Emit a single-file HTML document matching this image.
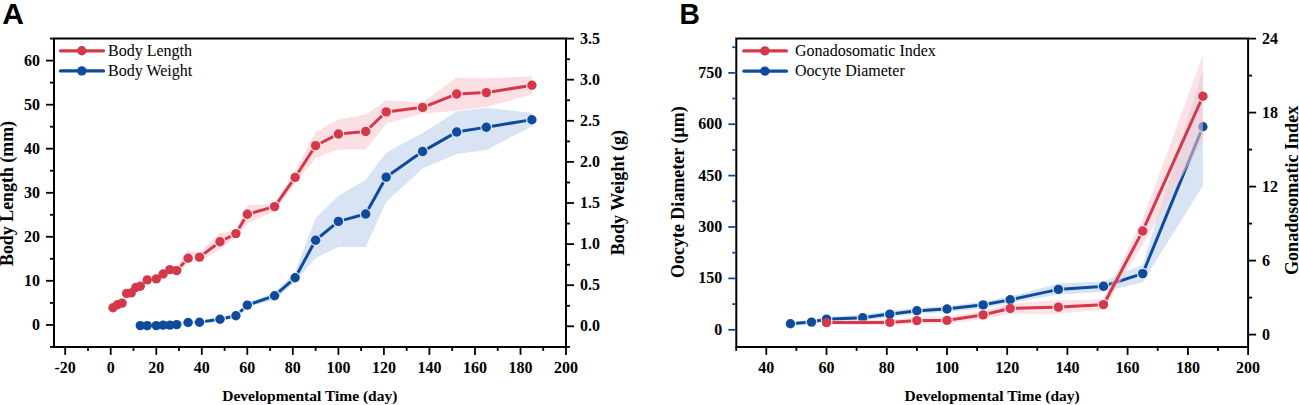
<!DOCTYPE html>
<html><head><meta charset="utf-8"><style>
html,body{margin:0;padding:0;background:#fff;width:1299px;height:405px;overflow:hidden}
svg{display:block}
.tl{font-family:"Liberation Serif",serif;font-weight:bold;font-size:16px;fill:#000}
.tv2{font-family:"Liberation Serif",serif;font-weight:bold;font-size:16.5px;fill:#000}
.tt{font-family:"Liberation Serif",serif;font-weight:bold;font-size:15.5px;fill:#000}
.tv{font-family:"Liberation Serif",serif;font-weight:bold;font-size:18px;fill:#000}
.lg{font-family:"Liberation Serif",serif;font-size:16px;fill:#000}
.pl{font-family:"Liberation Sans",sans-serif;font-weight:bold;font-size:30px;fill:#000}
</style></head><body>
<svg width="1299" height="405" viewBox="0 0 1299 405">
<rect width="1299" height="405" fill="#fff"/>
<g>
<polygon points="113.0,305.8 117.6,302.6 122.1,301.1 126.7,291.4 131.2,290.9 135.8,285.5 140.3,284.2 147.2,277.9 156.3,276.9 163.1,272.0 169.9,267.6 176.7,267.0 188.1,250.8 199.5,253.0 220.0,233.0 235.9,230.9 247.3,205.1 274.6,204.3 295.1,171.0 315.6,132.0 338.4,119.4 365.7,114.5 386.2,100.4 422.6,102.5 456.7,77.4 486.3,78.2 531.9,76.2 531.9,94.6 486.3,107.0 456.7,110.7 422.6,113.4 386.2,123.7 365.7,149.6 338.4,149.6 315.6,158.0 295.1,184.0 274.6,211.0 247.3,223.6 235.9,237.2 220.0,249.8 199.5,261.3 188.1,262.4 176.7,275.0 169.9,271.6 163.1,276.0 156.3,280.9 147.2,281.9 140.3,288.2 135.8,289.5 131.2,294.9 126.7,295.4 122.1,305.1 117.6,306.6 113.0,309.8" fill="#f9c9d1" fill-opacity="0.6"/>
<polygon points="140.3,323.6 147.2,323.6 156.3,323.6 163.1,323.1 169.9,323.1 176.7,322.6 188.1,320.5 199.5,320.2 220.0,317.2 235.9,313.7 247.3,303.1 274.6,292.2 295.1,272.0 315.6,218.2 338.4,195.7 365.7,179.7 386.2,152.4 422.6,133.0 456.7,111.5 486.3,107.8 531.9,113.0 531.9,126.2 486.3,150.0 456.7,154.0 422.6,168.5 386.2,202.0 365.7,247.0 338.4,247.0 315.6,258.0 295.1,282.0 274.6,300.0 247.3,307.1 235.9,317.7 220.0,321.2 199.5,324.2 188.1,324.5 176.7,326.6 169.9,327.1 163.1,327.1 156.3,327.6 147.2,327.6 140.3,327.6" fill="#c8d8ee" fill-opacity="0.7"/>
<path d="M180.67 266.33L184.21 262.47M204.16 253.63L215.35 245.27M225.15 239.15L230.77 236.25M238.88 228.60L244.37 219.30M252.90 212.73L269.05 208.17M277.96 201.85L291.79 182.15M298.26 172.52L312.46 150.48M320.77 142.97L333.20 136.63M344.15 133.47L359.91 132.03M369.88 127.49L381.98 115.91M391.93 111.19L416.84 108.11M428.00 105.28L451.34 96.12M462.54 93.73L480.54 92.87M492.06 91.68L526.14 86.22" fill="none" stroke="#d5384b" stroke-width="3.0"/><circle cx="113.0" cy="307.8" r="4.7" fill="#d5384b"/><circle cx="117.6" cy="304.6" r="4.7" fill="#d5384b"/><circle cx="122.1" cy="303.1" r="4.7" fill="#d5384b"/><circle cx="126.7" cy="293.4" r="4.7" fill="#d5384b"/><circle cx="131.2" cy="292.9" r="4.7" fill="#d5384b"/><circle cx="135.8" cy="287.5" r="4.7" fill="#d5384b"/><circle cx="140.3" cy="286.2" r="4.7" fill="#d5384b"/><circle cx="147.2" cy="279.9" r="4.7" fill="#d5384b"/><circle cx="156.3" cy="278.9" r="4.7" fill="#d5384b"/><circle cx="163.1" cy="274.0" r="4.7" fill="#d5384b"/><circle cx="169.9" cy="269.6" r="4.7" fill="#d5384b"/><circle cx="176.7" cy="270.6" r="4.7" fill="#d5384b"/><circle cx="188.1" cy="258.2" r="4.7" fill="#d5384b"/><circle cx="199.5" cy="257.1" r="4.7" fill="#d5384b"/><circle cx="220.0" cy="241.8" r="4.7" fill="#d5384b"/><circle cx="235.9" cy="233.6" r="4.7" fill="#d5384b"/><circle cx="247.3" cy="214.3" r="4.7" fill="#d5384b"/><circle cx="274.6" cy="206.6" r="4.7" fill="#d5384b"/><circle cx="295.1" cy="177.4" r="4.7" fill="#d5384b"/><circle cx="315.6" cy="145.6" r="4.7" fill="#d5384b"/><circle cx="338.4" cy="134.0" r="4.7" fill="#d5384b"/><circle cx="365.7" cy="131.5" r="4.7" fill="#d5384b"/><circle cx="386.2" cy="111.9" r="4.7" fill="#d5384b"/><circle cx="422.6" cy="107.4" r="4.7" fill="#d5384b"/><circle cx="456.7" cy="94.0" r="4.7" fill="#d5384b"/><circle cx="486.3" cy="92.6" r="4.7" fill="#d5384b"/><circle cx="531.9" cy="85.3" r="4.7" fill="#d5384b"/>
<path d="M205.25 321.36L214.26 320.04M225.66 317.96L230.27 316.94M240.18 311.75L243.07 309.05M252.80 303.23L269.14 297.67M278.99 291.97L290.76 281.63M297.89 272.71L312.83 245.29M320.08 236.51L333.90 225.09M343.97 219.88L360.09 215.52M368.50 208.93L383.36 182.17M390.92 173.76L417.85 154.84M427.63 148.62L451.71 134.88M462.47 131.07L480.61 128.13M492.06 126.26L526.14 120.64" fill="none" stroke="#0f4b9d" stroke-width="3.0"/><circle cx="140.3" cy="325.6" r="4.7" fill="#0f4b9d"/><circle cx="147.2" cy="325.6" r="4.7" fill="#0f4b9d"/><circle cx="156.3" cy="325.6" r="4.7" fill="#0f4b9d"/><circle cx="163.1" cy="325.1" r="4.7" fill="#0f4b9d"/><circle cx="169.9" cy="325.1" r="4.7" fill="#0f4b9d"/><circle cx="176.7" cy="324.6" r="4.7" fill="#0f4b9d"/><circle cx="188.1" cy="322.5" r="4.7" fill="#0f4b9d"/><circle cx="199.5" cy="322.2" r="4.7" fill="#0f4b9d"/><circle cx="220.0" cy="319.2" r="4.7" fill="#0f4b9d"/><circle cx="235.9" cy="315.7" r="4.7" fill="#0f4b9d"/><circle cx="247.3" cy="305.1" r="4.7" fill="#0f4b9d"/><circle cx="274.6" cy="295.8" r="4.7" fill="#0f4b9d"/><circle cx="295.1" cy="277.8" r="4.7" fill="#0f4b9d"/><circle cx="315.6" cy="240.2" r="4.7" fill="#0f4b9d"/><circle cx="338.4" cy="221.4" r="4.7" fill="#0f4b9d"/><circle cx="365.7" cy="214.0" r="4.7" fill="#0f4b9d"/><circle cx="386.2" cy="177.1" r="4.7" fill="#0f4b9d"/><circle cx="422.6" cy="151.5" r="4.7" fill="#0f4b9d"/><circle cx="456.7" cy="132.0" r="4.7" fill="#0f4b9d"/><circle cx="486.3" cy="127.2" r="4.7" fill="#0f4b9d"/><circle cx="531.9" cy="119.7" r="4.7" fill="#0f4b9d"/>
</g>
<path d="M54.0 38.6H566.0V346.9H54.0Z" fill="none" stroke="#000" stroke-width="2"/>
<path d="M46.0 324.9H54.0" stroke="#000" stroke-width="1.8"/>
<text transform="translate(40.0,329.9) scale(0.97,1)" text-anchor="end" class="tv2">0</text>
<path d="M46.0 280.8H54.0" stroke="#000" stroke-width="1.8"/>
<text transform="translate(40.0,285.8) scale(0.97,1)" text-anchor="end" class="tv2">10</text>
<path d="M46.0 236.8H54.0" stroke="#000" stroke-width="1.8"/>
<text transform="translate(40.0,241.8) scale(0.97,1)" text-anchor="end" class="tv2">20</text>
<path d="M46.0 192.8H54.0" stroke="#000" stroke-width="1.8"/>
<text transform="translate(40.0,197.8) scale(0.97,1)" text-anchor="end" class="tv2">30</text>
<path d="M46.0 148.7H54.0" stroke="#000" stroke-width="1.8"/>
<text transform="translate(40.0,153.7) scale(0.97,1)" text-anchor="end" class="tv2">40</text>
<path d="M46.0 104.7H54.0" stroke="#000" stroke-width="1.8"/>
<text transform="translate(40.0,109.7) scale(0.97,1)" text-anchor="end" class="tv2">50</text>
<path d="M46.0 60.6H54.0" stroke="#000" stroke-width="1.8"/>
<text transform="translate(40.0,65.6) scale(0.97,1)" text-anchor="end" class="tv2">60</text>
<path d="M50.0 346.9H54.0" stroke="#000" stroke-width="1.8"/>
<path d="M50.0 302.9H54.0" stroke="#000" stroke-width="1.8"/>
<path d="M50.0 258.8H54.0" stroke="#000" stroke-width="1.8"/>
<path d="M50.0 214.8H54.0" stroke="#000" stroke-width="1.8"/>
<path d="M50.0 170.7H54.0" stroke="#000" stroke-width="1.8"/>
<path d="M50.0 126.7H54.0" stroke="#000" stroke-width="1.8"/>
<path d="M50.0 82.6H54.0" stroke="#000" stroke-width="1.8"/>
<path d="M50.0 38.6H54.0" stroke="#000" stroke-width="1.8"/>
<path d="M566.0 326.3H574.0" stroke="#000" stroke-width="1.8"/>
<text transform="translate(580.0,331.3) scale(0.97,1)" class="tv2">0.0</text>
<path d="M566.0 285.2H574.0" stroke="#000" stroke-width="1.8"/>
<text transform="translate(580.0,290.2) scale(0.97,1)" class="tv2">0.5</text>
<path d="M566.0 244.1H574.0" stroke="#000" stroke-width="1.8"/>
<text transform="translate(580.0,249.1) scale(0.97,1)" class="tv2">1.0</text>
<path d="M566.0 203.0H574.0" stroke="#000" stroke-width="1.8"/>
<text transform="translate(580.0,208.0) scale(0.97,1)" class="tv2">1.5</text>
<path d="M566.0 161.9H574.0" stroke="#000" stroke-width="1.8"/>
<text transform="translate(580.0,166.9) scale(0.97,1)" class="tv2">2.0</text>
<path d="M566.0 120.8H574.0" stroke="#000" stroke-width="1.8"/>
<text transform="translate(580.0,125.8) scale(0.97,1)" class="tv2">2.5</text>
<path d="M566.0 79.7H574.0" stroke="#000" stroke-width="1.8"/>
<text transform="translate(580.0,84.7) scale(0.97,1)" class="tv2">3.0</text>
<path d="M566.0 38.6H574.0" stroke="#000" stroke-width="1.8"/>
<text transform="translate(580.0,43.6) scale(0.97,1)" class="tv2">3.5</text>
<path d="M566.0 346.9H570.0" stroke="#000" stroke-width="1.8"/>
<path d="M566.0 305.8H570.0" stroke="#000" stroke-width="1.8"/>
<path d="M566.0 264.7H570.0" stroke="#000" stroke-width="1.8"/>
<path d="M566.0 223.6H570.0" stroke="#000" stroke-width="1.8"/>
<path d="M566.0 182.5H570.0" stroke="#000" stroke-width="1.8"/>
<path d="M566.0 141.4H570.0" stroke="#000" stroke-width="1.8"/>
<path d="M566.0 100.3H570.0" stroke="#000" stroke-width="1.8"/>
<path d="M566.0 59.2H570.0" stroke="#000" stroke-width="1.8"/>
<path d="M65.2 346.9V354.9" stroke="#000" stroke-width="1.8"/>
<text x="65.2" y="373.4" text-anchor="middle" class="tl">-20</text>
<path d="M110.7 346.9V354.9" stroke="#000" stroke-width="1.8"/>
<text x="110.7" y="373.4" text-anchor="middle" class="tl">0</text>
<path d="M156.3 346.9V354.9" stroke="#000" stroke-width="1.8"/>
<text x="156.3" y="373.4" text-anchor="middle" class="tl">20</text>
<path d="M201.8 346.9V354.9" stroke="#000" stroke-width="1.8"/>
<text x="201.8" y="373.4" text-anchor="middle" class="tl">40</text>
<path d="M247.3 346.9V354.9" stroke="#000" stroke-width="1.8"/>
<text x="247.3" y="373.4" text-anchor="middle" class="tl">60</text>
<path d="M292.8 346.9V354.9" stroke="#000" stroke-width="1.8"/>
<text x="292.8" y="373.4" text-anchor="middle" class="tl">80</text>
<path d="M338.4 346.9V354.9" stroke="#000" stroke-width="1.8"/>
<text x="338.4" y="373.4" text-anchor="middle" class="tl">100</text>
<path d="M383.9 346.9V354.9" stroke="#000" stroke-width="1.8"/>
<text x="383.9" y="373.4" text-anchor="middle" class="tl">120</text>
<path d="M429.4 346.9V354.9" stroke="#000" stroke-width="1.8"/>
<text x="429.4" y="373.4" text-anchor="middle" class="tl">140</text>
<path d="M475.0 346.9V354.9" stroke="#000" stroke-width="1.8"/>
<text x="475.0" y="373.4" text-anchor="middle" class="tl">160</text>
<path d="M520.5 346.9V354.9" stroke="#000" stroke-width="1.8"/>
<text x="520.5" y="373.4" text-anchor="middle" class="tl">180</text>
<path d="M566.0 346.9V354.9" stroke="#000" stroke-width="1.8"/>
<text x="566.0" y="373.4" text-anchor="middle" class="tl">200</text>
<path d="M88.0 346.9V350.9" stroke="#000" stroke-width="1.8"/>
<path d="M133.5 346.9V350.9" stroke="#000" stroke-width="1.8"/>
<path d="M179.0 346.9V350.9" stroke="#000" stroke-width="1.8"/>
<path d="M224.6 346.9V350.9" stroke="#000" stroke-width="1.8"/>
<path d="M270.1 346.9V350.9" stroke="#000" stroke-width="1.8"/>
<path d="M315.6 346.9V350.9" stroke="#000" stroke-width="1.8"/>
<path d="M361.1 346.9V350.9" stroke="#000" stroke-width="1.8"/>
<path d="M406.7 346.9V350.9" stroke="#000" stroke-width="1.8"/>
<path d="M452.2 346.9V350.9" stroke="#000" stroke-width="1.8"/>
<path d="M497.7 346.9V350.9" stroke="#000" stroke-width="1.8"/>
<path d="M543.2 346.9V350.9" stroke="#000" stroke-width="1.8"/>
<text x="222.3" y="401.3" class="tt">Developmental Time (day)</text>
<text transform="translate(13.3,266) rotate(-90)" class="tv" textLength="145" lengthAdjust="spacingAndGlyphs">Body Length (mm)</text>
<text transform="translate(624.2,255.2) rotate(-90)" class="tv" textLength="125.3" lengthAdjust="spacingAndGlyphs">Body Weight (g)</text>
<text x="2.2" y="24.1" class="pl">A</text>
<path d="M60.5 50.8H103.5" stroke="#d5384b" stroke-width="3.2" stroke-linecap="round"/><circle cx="81.8" cy="50.8" r="4.7" fill="#d5384b"/>
<path d="M60.5 70.9H103.5" stroke="#0f4b9d" stroke-width="3.2" stroke-linecap="round"/><circle cx="81.8" cy="70.9" r="4.7" fill="#0f4b9d"/>
<text x="108" y="55.9" class="lg">Body Length</text>
<text x="108" y="75.9" class="lg">Body Weight</text>
<polygon points="790.4,321.8 811.5,320.1 826.5,317.1 862.7,314.5 889.8,311.0 916.9,307.8 947.0,306.0 983.1,301.5 1010.2,296.5 1058.4,283.6 1103.5,281.5 1142.7,264.4 1202.9,70.0 1202.9,185.7 1142.7,282.2 1103.5,291.7 1058.4,294.4 1010.2,303.0 983.1,308.5 947.0,312.0 916.9,313.8 889.8,317.5 862.7,320.5 826.5,321.1 811.5,324.1 790.4,325.8" fill="#c8d8ee" fill-opacity="0.7"/>
<path d="M796.18 323.33L805.69 322.57M817.16 320.97L820.84 320.23M832.33 318.88L856.87 317.92M868.41 316.94L884.01 314.86M895.52 313.40L911.10 311.50M922.65 310.45L941.18 309.35M952.73 308.35L977.34 305.55M988.80 303.83L1004.50 300.87M1015.87 298.58L1052.71 290.62M1064.16 289.00L1097.76 286.70M1109.06 284.51L1137.17 275.39M1144.89 268.23L1200.70 132.17" fill="none" stroke="#0f4b9d" stroke-width="3.0"/><circle cx="790.4" cy="323.8" r="4.7" fill="#0f4b9d"/><circle cx="811.5" cy="322.1" r="4.7" fill="#0f4b9d"/><circle cx="826.5" cy="319.1" r="4.7" fill="#0f4b9d"/><circle cx="862.7" cy="317.7" r="4.7" fill="#0f4b9d"/><circle cx="889.8" cy="314.1" r="4.7" fill="#0f4b9d"/><circle cx="916.9" cy="310.8" r="4.7" fill="#0f4b9d"/><circle cx="947.0" cy="309.0" r="4.7" fill="#0f4b9d"/><circle cx="983.1" cy="304.9" r="4.7" fill="#0f4b9d"/><circle cx="1010.2" cy="299.8" r="4.7" fill="#0f4b9d"/><circle cx="1058.4" cy="289.4" r="4.7" fill="#0f4b9d"/><circle cx="1103.5" cy="286.3" r="4.7" fill="#0f4b9d"/><circle cx="1142.7" cy="273.6" r="4.7" fill="#0f4b9d"/><circle cx="1202.9" cy="126.8" r="4.7" fill="#0f4b9d"/>
<polygon points="826.5,320.6 889.8,319.5 916.9,317.5 947.0,317.0 983.1,311.0 1010.2,303.3 1058.4,300.6 1103.5,299.2 1142.7,219.0 1202.9,55.4 1202.9,140.0 1142.7,245.0 1103.5,309.4 1058.4,313.7 1010.2,314.1 983.1,319.0 947.0,323.8 916.9,323.5 889.8,325.5 826.5,324.6" fill="#f9c9d1" fill-opacity="0.55"/>
<path d="M832.33 322.58L883.96 322.42M895.55 322.02L911.07 320.98M922.66 320.56L941.17 320.44M952.70 319.53L977.37 315.77M988.75 313.57L1004.56 309.83M1016.00 308.33L1052.58 307.27M1064.17 306.78L1097.75 304.92M1106.27 299.48L1139.96 236.12M1145.05 225.71L1200.54 101.59" fill="none" stroke="#d5384b" stroke-width="3.0"/><circle cx="826.5" cy="322.6" r="4.7" fill="#d5384b"/><circle cx="889.8" cy="322.4" r="4.7" fill="#d5384b"/><circle cx="916.9" cy="320.6" r="4.7" fill="#d5384b"/><circle cx="947.0" cy="320.4" r="4.7" fill="#d5384b"/><circle cx="983.1" cy="314.9" r="4.7" fill="#d5384b"/><circle cx="1010.2" cy="308.5" r="4.7" fill="#d5384b"/><circle cx="1058.4" cy="307.1" r="4.7" fill="#d5384b"/><circle cx="1103.5" cy="304.6" r="4.7" fill="#d5384b"/><circle cx="1142.7" cy="231.0" r="4.7" fill="#d5384b"/><circle cx="1202.9" cy="96.3" r="4.7" fill="#d5384b"/>
<path d="M736.3 38.6H1248.1V346.9H736.3Z" fill="none" stroke="#000" stroke-width="2"/>
<path d="M728.3 329.8H736.3" stroke="#0f4b9d" stroke-width="1.8"/>
<text transform="translate(722.3,334.8) scale(0.97,1)" text-anchor="end" class="tv2">0</text>
<path d="M728.3 278.4H736.3" stroke="#0f4b9d" stroke-width="1.8"/>
<text transform="translate(722.3,283.4) scale(0.97,1)" text-anchor="end" class="tv2">150</text>
<path d="M728.3 227.0H736.3" stroke="#0f4b9d" stroke-width="1.8"/>
<text transform="translate(722.3,232.0) scale(0.97,1)" text-anchor="end" class="tv2">300</text>
<path d="M728.3 175.6H736.3" stroke="#0f4b9d" stroke-width="1.8"/>
<text transform="translate(722.3,180.6) scale(0.97,1)" text-anchor="end" class="tv2">450</text>
<path d="M728.3 124.2H736.3" stroke="#0f4b9d" stroke-width="1.8"/>
<text transform="translate(722.3,129.2) scale(0.97,1)" text-anchor="end" class="tv2">600</text>
<path d="M728.3 72.9H736.3" stroke="#0f4b9d" stroke-width="1.8"/>
<text transform="translate(722.3,77.9) scale(0.97,1)" text-anchor="end" class="tv2">750</text>
<path d="M732.3 304.1H736.3" stroke="#0f4b9d" stroke-width="1.8"/>
<path d="M732.3 252.7H736.3" stroke="#0f4b9d" stroke-width="1.8"/>
<path d="M732.3 201.3H736.3" stroke="#0f4b9d" stroke-width="1.8"/>
<path d="M732.3 149.9H736.3" stroke="#0f4b9d" stroke-width="1.8"/>
<path d="M732.3 98.5H736.3" stroke="#0f4b9d" stroke-width="1.8"/>
<path d="M732.3 47.2H736.3" stroke="#0f4b9d" stroke-width="1.8"/>
<path d="M1248.1 334.6H1256.1" stroke="#000" stroke-width="1.8"/>
<text transform="translate(1262.1,339.6) scale(0.97,1)" class="tv2">0</text>
<path d="M1248.1 260.6H1256.1" stroke="#000" stroke-width="1.8"/>
<text transform="translate(1262.1,265.6) scale(0.97,1)" class="tv2">6</text>
<path d="M1248.1 186.6H1256.1" stroke="#000" stroke-width="1.8"/>
<text transform="translate(1262.1,191.6) scale(0.97,1)" class="tv2">12</text>
<path d="M1248.1 112.6H1256.1" stroke="#000" stroke-width="1.8"/>
<text transform="translate(1262.1,117.6) scale(0.97,1)" class="tv2">18</text>
<path d="M1248.1 38.6H1256.1" stroke="#000" stroke-width="1.8"/>
<text transform="translate(1262.1,43.6) scale(0.97,1)" class="tv2">24</text>
<path d="M1248.1 297.6H1252.1" stroke="#000" stroke-width="1.8"/>
<path d="M1248.1 223.6H1252.1" stroke="#000" stroke-width="1.8"/>
<path d="M1248.1 149.6H1252.1" stroke="#000" stroke-width="1.8"/>
<path d="M1248.1 75.6H1252.1" stroke="#000" stroke-width="1.8"/>
<path d="M766.3 346.9V354.9" stroke="#000" stroke-width="1.8"/>
<text x="766.3" y="373.4" text-anchor="middle" class="tl">40</text>
<path d="M826.5 346.9V354.9" stroke="#000" stroke-width="1.8"/>
<text x="826.5" y="373.4" text-anchor="middle" class="tl">60</text>
<path d="M886.8 346.9V354.9" stroke="#000" stroke-width="1.8"/>
<text x="886.8" y="373.4" text-anchor="middle" class="tl">80</text>
<path d="M947.0 346.9V354.9" stroke="#000" stroke-width="1.8"/>
<text x="947.0" y="373.4" text-anchor="middle" class="tl">100</text>
<path d="M1007.2 346.9V354.9" stroke="#000" stroke-width="1.8"/>
<text x="1007.2" y="373.4" text-anchor="middle" class="tl">120</text>
<path d="M1067.4 346.9V354.9" stroke="#000" stroke-width="1.8"/>
<text x="1067.4" y="373.4" text-anchor="middle" class="tl">140</text>
<path d="M1127.6 346.9V354.9" stroke="#000" stroke-width="1.8"/>
<text x="1127.6" y="373.4" text-anchor="middle" class="tl">160</text>
<path d="M1187.9 346.9V354.9" stroke="#000" stroke-width="1.8"/>
<text x="1187.9" y="373.4" text-anchor="middle" class="tl">180</text>
<path d="M1248.1 346.9V354.9" stroke="#000" stroke-width="1.8"/>
<text x="1248.1" y="373.4" text-anchor="middle" class="tl">200</text>
<path d="M736.2 346.9V350.9" stroke="#000" stroke-width="1.8"/>
<path d="M796.4 346.9V350.9" stroke="#000" stroke-width="1.8"/>
<path d="M856.6 346.9V350.9" stroke="#000" stroke-width="1.8"/>
<path d="M916.9 346.9V350.9" stroke="#000" stroke-width="1.8"/>
<path d="M977.1 346.9V350.9" stroke="#000" stroke-width="1.8"/>
<path d="M1037.3 346.9V350.9" stroke="#000" stroke-width="1.8"/>
<path d="M1097.5 346.9V350.9" stroke="#000" stroke-width="1.8"/>
<path d="M1157.7 346.9V350.9" stroke="#000" stroke-width="1.8"/>
<path d="M1218.0 346.9V350.9" stroke="#000" stroke-width="1.8"/>
<text x="904.6" y="401.3" class="tt">Developmental Time (day)</text>
<text transform="translate(683.6,278.1) rotate(-90)" class="tv" textLength="171.8" lengthAdjust="spacingAndGlyphs">Oocyte Diameter (μm)</text>
<text transform="translate(1298,275) rotate(-90)" class="tv" textLength="169.2" lengthAdjust="spacingAndGlyphs">Gonadosomatic Index</text>
<text transform="translate(679.6,24.1) scale(0.94,1)" class="pl">B</text>
<path d="M743.8 50.9H786.5" stroke="#d5384b" stroke-width="3.2" stroke-linecap="round"/><circle cx="764.9" cy="50.9" r="4.7" fill="#d5384b"/>
<path d="M743.8 71.1H786.5" stroke="#0f4b9d" stroke-width="3.2" stroke-linecap="round"/><circle cx="764.9" cy="71.1" r="4.7" fill="#0f4b9d"/>
<text x="795" y="56.2" class="lg">Gonadosomatic Index</text>
<text x="795" y="76.2" class="lg">Oocyte Diameter</text>
</svg>
</body></html>
